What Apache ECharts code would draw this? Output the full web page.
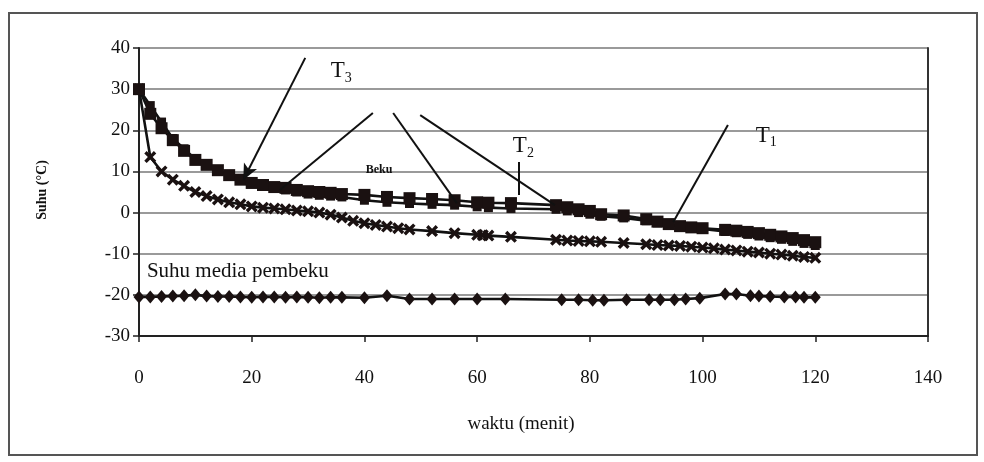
<!DOCTYPE html>
<html>
<head>
<meta charset="utf-8">
<script src="https://cdn.jsdelivr.net/npm/echarts@6/dist/echarts.min.js"></script>
<style>html,body{margin:0;padding:0;background:#fff}#c{width:984px;height:462px}</style>
</head>
<body>
<div id="c"></div>
<script>
// ---- data ----
var xTicks = [0, 20, 40, 60, 80, 100, 120, 140];
var yTicks = [-30, -20, -10, 0, 10, 20, 30, 40];

var timeTop = [0,2,4,6,8,10,12,14,16,18,20,22,24,26,28,30,32,34,36,40,44,48,52,56,60,62,66,74,76,78,80,82,86,90,92,94,96,98,100,104,106,108,110,112,114,116,118,120];
var t1Values = [30,24,20.5,17.6,15,12.8,11.6,10.3,9.1,8,7.2,6.7,6.2,6,5.5,5.2,5,4.8,4.5,4.3,3.8,3.5,3.3,3,2.5,2.4,2.3,1.8,1.3,0.8,0.4,-0.4,-0.7,-1.6,-2.2,-2.8,-3.3,-3.6,-3.8,-4.2,-4.4,-4.7,-5,-5.4,-5.8,-6.2,-6.7,-7.2];
var t2Values = [30,26,22,18,15.5,13,11.5,10,9,8,7,6.5,6,5.5,5,4.5,4.2,4,3.8,3,2.5,2.2,2,1.8,1.4,1.2,1,0.8,0.4,0,-0.4,-0.9,-1.3,-2,-2.5,-3,-3.4,-3.7,-4,-4.6,-4.9,-5.3,-5.7,-6.1,-6.5,-7,-7.5,-8];

var timeX = [0,2,4,6,8,10,12,14,16,18,20,22,24,26,28,30,32,34,36,38,40,42,44,46,48,52,56,60,61,62,66,74,76,78,80,82,86,90,92,94,96,98,100,102,104,106,108,110,112,114,116,118,120];
var t3Values = [30,13.5,10,8,6.5,5,4,3.2,2.5,2,1.5,1.2,1,0.8,0.5,0.3,0,-0.5,-1.2,-2,-2.6,-3,-3.4,-3.8,-4.1,-4.5,-5,-5.4,-5.5,-5.6,-5.9,-6.6,-6.8,-6.9,-7,-7.1,-7.4,-7.7,-7.9,-8,-8.1,-8.3,-8.5,-8.7,-9,-9.2,-9.5,-9.7,-10,-10.2,-10.5,-10.8,-11];

var timeMedia = [0,2,4,6,8,10,12,14,16,18,20,22,24,26,28,30,32,34,36,40,44,48,52,56,60,65,75,78,80.5,82.5,86.5,90.5,92.5,95,97,99.5,104,106,108.5,110,112,114.5,116.5,118,120];
var mediaValues = [-20.5,-20.5,-20.4,-20.3,-20.2,-20,-20.3,-20.4,-20.4,-20.5,-20.6,-20.5,-20.5,-20.6,-20.5,-20.6,-20.7,-20.6,-20.6,-20.7,-20.2,-21,-21,-21,-21,-21,-21.2,-21.2,-21.3,-21.3,-21.2,-21.2,-21.2,-21.2,-21,-20.8,-19.8,-19.8,-20.2,-20.3,-20.4,-20.5,-20.5,-20.6,-20.6];

// annotation lines in data coordinates [x1,y1,x2,y2,arrow]
var annoLines = [
  [29.5, 37.6, 18.5, 7.9, true],
  [41.5, 24.2, 25.0, 5.5, false],
  [45.1, 24.2, 56.4, 2.3, false],
  [49.9, 23.7, 73.8, 1.8, false],
  [67.4, 12.3, 67.4, 4.3, false],
  [104.5, 21.3, 94.8, -2.3, false]
];
// annotation texts [x, y, main, sub]
var annoTexts = [
  [35.9, 34.4, 'T', '3'],
  [68.2, 16.2, 'T', '2'],
  [111.3, 18.7, 'T', '1']
];
var bekuText = [42.6, 10.3, 'Beku'];
var mediaLabel = [1.4, -14.2, 'Suhu media pembeku'];

function zip(a, b) { return a.map(function (v, i) { return [v, b[i]]; }); }

var SERIF = '"Liberation Serif", "DejaVu Serif", serif';
var XPATH = 'path://M0,2 L2,0 L5,3 L8,0 L10,2 L7,5 L10,8 L8,10 L5,7 L2,10 L0,8 L3,5 Z';

var chart = echarts.init(document.getElementById('c'), null, {renderer: 'canvas'});

var markLineData = annoLines.map(function (l) {
  return [
    {coord: [l[0], l[1]], symbol: 'none'},
    {coord: [l[2], l[3]], symbol: l[4] ? 'arrow' : 'none', symbolSize: l[4] ? [11, 16] : 0}
  ];
});

var markPointData = annoTexts.map(function (t) {
  return {coord: [t[0], t[1]], label: {formatter: '{m|' + t[2] + '}{s|' + t[3] + '}'}};
});
markPointData.push({coord: [bekuText[0], bekuText[1]], label: {formatter: '{b|' + bekuText[2] + '}'}});
markPointData.push({coord: [mediaLabel[0], mediaLabel[1]], label: {formatter: '{l|' + mediaLabel[2] + '}', position: 'right', distance: 0}});

var lineBase = {type: 'line', smooth: false, animation: false, silent: true,
  lineStyle: {color: '#111', width: 2.6}, itemStyle: {color: '#1a1111'}};

var option = {
  animation: false,
  backgroundColor: '#fff',
  grid: {left: 139, right: 56, top: 48, bottom: 126},
  xAxis: {
    type: 'value', min: 0, max: 140, interval: 20,
    axisLine: {show: true, onZero: false, lineStyle: {color: '#222', width: 2}},
    axisTick: {show: true, inside: false, length: 6, lineStyle: {color: '#222', width: 1.5}},
    axisLabel: {margin: 33, color: '#111', fontFamily: SERIF, fontSize: 19,
      formatter: function (v) { return xTicks.indexOf(v) >= 0 ? String(v) : ''; }},
    splitLine: {show: false}
  },
  yAxis: [{
    type: 'value', min: -30, max: 40, interval: 10,
    axisLine: {show: true, onZero: false, lineStyle: {color: '#222', width: 2}},
    axisTick: {show: true, inside: false, length: 6, lineStyle: {color: '#222', width: 1.5}},
    axisLabel: {margin: 9, color: '#111', fontFamily: SERIF, fontSize: 19,
      formatter: function (v) { return yTicks.indexOf(v) >= 0 ? String(v) : ''; }},
    splitLine: {show: true, lineStyle: {color: '#9a9a9a', width: 2}}
  }, {
    type: 'value', min: -30, max: 40, interval: 10, position: 'right',
    axisLine: {show: true, onZero: false, lineStyle: {color: '#333', width: 2}},
    axisTick: {show: false}, axisLabel: {show: false}, splitLine: {show: false}
  }],
  graphic: [
    {type: 'rect', shape: {x: 9, y: 13, width: 968, height: 442}, style: {fill: 'none', stroke: '#555', lineWidth: 2}, silent: true},
    {type: 'text', x: 42, y: 190, rotation: Math.PI / 2, style: {text: 'Suhu (°C)', font: 'bold 14px ' + SERIF, fill: '#111', textAlign: 'center', textVerticalAlign: 'middle'}},
    {type: 'text', x: 521, y: 424, style: {text: 'waktu (menit)', font: '19px ' + SERIF, fill: '#111', textAlign: 'center', textVerticalAlign: 'middle'}}
  ],
  series: [
    Object.assign({}, lineBase, {
      name: 'Suhu media pembeku', data: zip(timeMedia, mediaValues),
      symbol: 'diamond', symbolSize: [11, 13]
    }),
    Object.assign({}, lineBase, {
      name: 'T3', data: zip(timeX, t3Values),
      symbol: XPATH, symbolSize: 12
    }),
    Object.assign({}, lineBase, {
      name: 'T2', data: zip(timeTop, t2Values),
      symbol: 'rect', symbolSize: 9
    }),
    Object.assign({}, lineBase, {
      name: 'T1', data: zip(timeTop, t1Values),
      symbol: 'rect', symbolSize: 12,
      markLine: {silent: true, animation: false, symbol: ['none', 'none'],
        lineStyle: {type: 'solid', color: '#111', width: 2},
        label: {show: false}, emphasis: {disabled: true},
        data: markLineData},
      markPoint: {silent: true, animation: false, symbol: 'circle', symbolSize: 0,
        itemStyle: {color: 'transparent'},
        label: {show: true, position: 'inside', color: '#111',
          rich: {
            m: {fontFamily: SERIF, fontSize: 23, color: '#111'},
            s: {fontFamily: SERIF, fontSize: 14, color: '#111', padding: [14, 0, 0, 0]},
            b: {fontFamily: SERIF, fontSize: 12, fontWeight: 'bold', color: '#111'},
            l: {fontFamily: SERIF, fontSize: 21, color: '#111'}
          }},
        data: markPointData}
    })
  ]
};
chart.setOption(option);
</script>
</body>
</html>
